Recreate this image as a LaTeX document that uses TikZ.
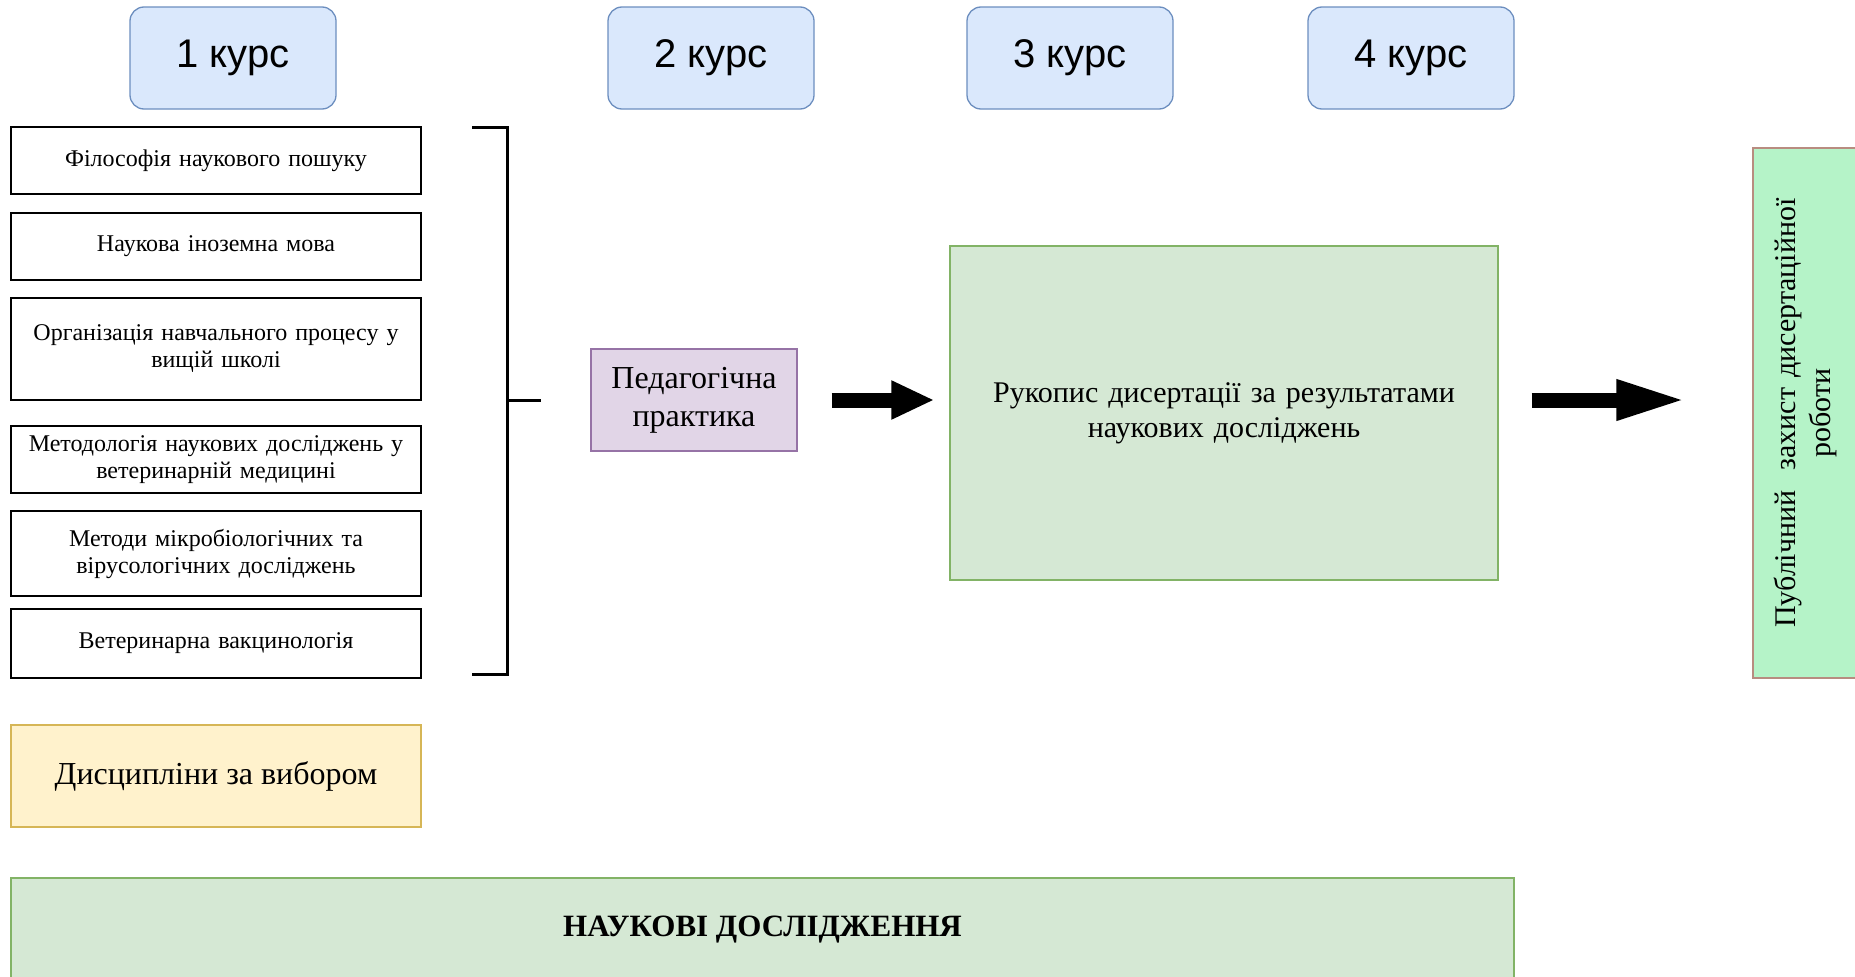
\documentclass[tikz,border=0pt]{standalone}
\usepackage{fontspec}
\setmainfont{Liberation Serif}
\newfontfamily\arialf{Liberation Sans}
\usetikzlibrary{arrows.meta}
\definecolor{blueF}{HTML}{DAE8FC}
\definecolor{blueD}{HTML}{6C8EBF}
\definecolor{greenF}{HTML}{D5E8D4}
\definecolor{greenD}{HTML}{82B366}
\definecolor{purpleF}{HTML}{E1D5E7}
\definecolor{purpleD}{HTML}{9673A6}
\definecolor{yellowF}{HTML}{FFF2CC}
\definecolor{yellowD}{HTML}{D6B656}
\definecolor{pubF}{HTML}{B5F3C8}
\definecolor{pubD}{HTML}{B88C80}
\tikzset{
  course/.style={draw=blueD, fill=blueF, rounded corners=14pt, line width=1.3pt,
    minimum width=206pt, minimum height=102pt, inner sep=0pt,
    font=\arialf\fontsize{40}{44}\selectfont},
  subj/.style={draw=black, line width=2pt, fill=white, minimum width=410pt,
    inner sep=0pt, text width=400pt, align=center,
    font=\fontsize{24}{27}\selectfont},
  blockarrow/.style={line width=15pt},
  bracketline/.style={line width=3pt}
}
\begin{document}
\begin{tikzpicture}[x=1pt,y=-1pt]
\useasboundingbox (0,0) rectangle (1855,977);
% course headers
\node[course] (c1) at (233,58) {1 курс};
\node[course] (c2) at (711,58) {2 курс};
\node[course] (c3) at (1070,58) {3 курс};
\node[course] (c4) at (1411,58) {4 курс};
% subjects
\node[subj, minimum height=67pt] (s1) at (216,160.5) {Філософія наукового пошуку};
\node[subj, minimum height=67pt] (s2) at (216,246.5) {Наукова іноземна мова};
\node[subj, minimum height=102pt] (s3) at (216,349) {Організація навчального процесу у\\вищій школі};
\node[subj, minimum height=67pt] (s4) at (216,459.5) {Методологія наукових досліджень у\\ветеринарній медицині};
\node[subj, minimum height=85pt] (s5) at (216,553.5) {Методи мікробіологічних та\\вірусологічних досліджень};
\node[subj, minimum height=69pt] (s6) at (216,643.5) {Ветеринарна вакцинологія};
% elective
\node[draw=yellowD, fill=yellowF, line width=1.3pt, minimum width=410pt, minimum height=102pt,
  inner sep=0pt, font=\fontsize{32}{38}\selectfont] (el) at (216,776) {Дисципліни за вибором};
% research
\node[draw=greenD, fill=greenF, line width=1.3pt, minimum width=1503pt, minimum height=104pt,
  inner sep=0pt, font=\bfseries\fontsize{31}{35}\selectfont] (res) at (762.5,930) {НАУКОВІ ДОСЛІДЖЕННЯ};
% bracket
\coordinate (bt) at (472,127);
\coordinate (bb) at (472,674);
\coordinate (bj) at (507,400);
\coordinate (bm) at (541,400);
\draw[bracketline] (bt) -| (bj) |- (bb);
\draw[bracketline] (bj) -- (bm);
% practice
\node[draw=purpleD, fill=purpleF, line width=1.3pt, minimum width=206pt, minimum height=102pt,
  inner sep=0pt, text width=200pt, align=center, font=\fontsize{32}{38}\selectfont] (ped) at (694,400) {Педагогічна\\практика};
% manuscript
\node[draw=greenD, fill=greenF, line width=1.3pt, minimum width=548pt, minimum height=334pt,
  inner sep=0pt, text width=540pt, align=center, font=\fontsize{30}{35}\selectfont] (ruk) at (1224,413) {Рукопис дисертації за результатами\\наукових досліджень};
% defence
\node[draw=pubD, fill=pubF, line width=1.3pt, rotate=90, minimum width=530pt, minimum height=104pt,
  inner sep=0pt, text width=520pt, align=center, font=\fontsize{30}{35}\selectfont] (pub) at (1805,413) {Публічний\ \ захист дисертаційної\\роботи};
% arrows
\draw[blockarrow, -{Triangle[length=43pt, width=36pt]}, shorten <=34pt, shorten >=15pt] (ped.east) -- (ped.east -| ruk.west);
\draw[blockarrow, -{Triangle[length=70pt, width=37pt]}, shorten <=33pt, shorten >=66pt] (ped.east -| ruk.east) -- (ped.east -| pub.north);
\end{tikzpicture}
\end{document}
